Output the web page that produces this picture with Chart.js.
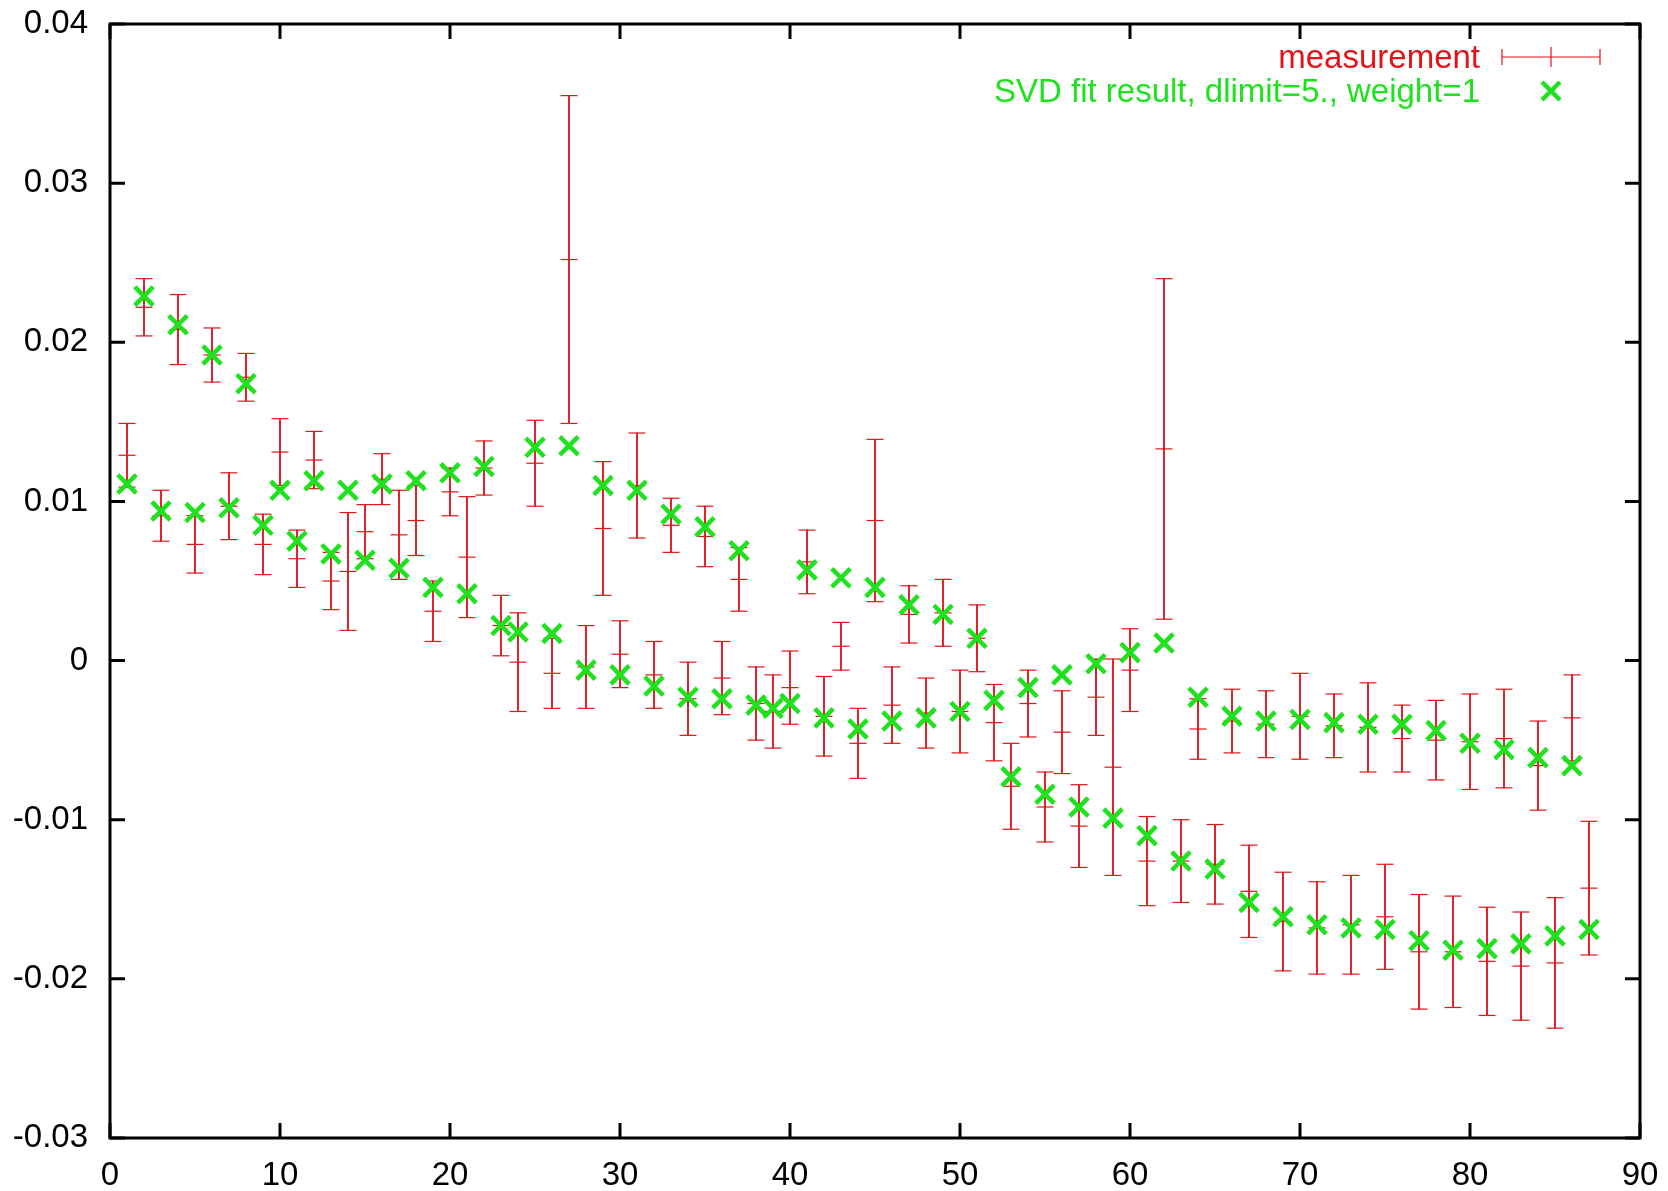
<!DOCTYPE html>
<html>
<head>
<meta charset="utf-8">
<script src="https://cdn.jsdelivr.net/npm/chart.js@4/dist/chart.umd.min.js"></script>
<style>
  html, body { margin: 0; padding: 0; background: #ffffff; }
  #wrap { width: 1668px; height: 1191px; }
</style>
</head>
<body>
<div id="wrap"><canvas id="c" width="1668" height="1191"></canvas></div>
<script>
// ---- data ----
const xValues = [1,2,3,4,5,6,7,8,9,10,11,12,13,14,15,16,17,18,19,20,21,22,23,24,25,26,27,28,29,30,
  31,32,33,34,35,36,37,38,39,40,41,42,43,44,45,46,47,48,49,50,51,52,53,54,55,56,57,58,59,60,
  61,62,63,64,65,66,67,68,69,70,71,72,73,74,75,76,77,78,79,80,81,82,83,84,85,86,87];

const measurement = [0.0129,0.0222,0.0091,0.0208,0.0073,0.0192,0.0097,0.0178,0.0073,0.0131,
  0.0064,0.0126,0.0050,0.0056,0.0081,0.0114,0.0079,0.0088,0.0031,0.0106,
  0.0065,0.0121,0.0022,-0.0001,0.0124,-0.0008,0.0252,-0.0004,0.0083,0.0004,
  0.0110,-0.0009,0.0085,-0.0024,0.0078,-0.0011,0.0051,-0.0027,-0.0032,-0.0017,
  0.0062,-0.0035,0.0009,-0.0052,0.0088,-0.0028,0.0029,-0.0033,0.0030,-0.0032,
  0.0014,-0.0039,-0.0079,-0.0027,-0.0092,-0.0045,-0.0104,-0.0023,-0.0067,-0.0006,
  -0.0126,0.0133,-0.0126,-0.0043,-0.0128,-0.0038,-0.0145,-0.0040,-0.0164,-0.0035,
  -0.0168,-0.0041,-0.0166,-0.0042,-0.0161,-0.0049,-0.0183,-0.0050,-0.0183,-0.0051,
  -0.0189,-0.0049,-0.0192,-0.0066,-0.0190,-0.0036,-0.0143];

const measurementError = [0.0020,0.0018,0.0016,0.0022,0.0018,0.0017,0.0021,0.0015,0.0019,0.0021,
  0.0018,0.0018,0.0018,0.0037,0.0017,0.0016,0.0028,0.0022,0.0019,0.0015,
  0.0038,0.0017,0.0019,0.0031,0.0027,0.0022,0.0103,0.0026,0.0042,0.0021,
  0.0033,0.0021,0.0017,0.0023,0.0019,0.0023,0.0020,0.0023,0.0023,0.0023,
  0.0020,0.0025,0.0015,0.0022,0.0051,0.0024,0.0018,0.0022,0.0021,0.0026,
  0.0021,0.0024,0.0027,0.0021,0.0022,0.0026,0.0026,0.0024,0.0068,0.0026,
  0.0028,0.0107,0.0026,0.0019,0.0025,0.0020,0.0029,0.0021,0.0031,0.0027,
  0.0029,0.0020,0.0031,0.0028,0.0033,0.0021,0.0036,0.0025,0.0035,0.0030,
  0.0034,0.0031,0.0034,0.0028,0.0041,0.0027,0.0042];

const fitResult = [0.0111,0.0229,0.0094,0.0211,0.0093,0.0192,0.0096,0.0174,0.0085,0.0107,
  0.0075,0.0113,0.0067,0.0107,0.0063,0.0111,0.0058,0.0113,0.0046,0.0118,
  0.0042,0.0122,0.0022,0.0018,0.0134,0.0017,0.0135,-0.0006,0.0110,-0.0009,
  0.0107,-0.0016,0.0092,-0.0023,0.0084,-0.0024,0.0069,-0.0028,-0.0030,-0.0027,
  0.0057,-0.0036,0.0052,-0.0043,0.0046,-0.0038,0.0035,-0.0036,0.0029,-0.0032,
  0.0014,-0.0025,-0.0073,-0.0017,-0.0084,-0.0009,-0.0092,-0.0002,-0.0099,0.0005,
  -0.0110,0.0011,-0.0126,-0.0023,-0.0131,-0.0035,-0.0152,-0.0038,-0.0161,-0.0037,
  -0.0166,-0.0039,-0.0168,-0.0040,-0.0169,-0.0040,-0.0176,-0.0044,-0.0182,-0.0052,
  -0.0181,-0.0056,-0.0178,-0.0061,-0.0173,-0.0066,-0.0169];

const xTickValues = [0,10,20,30,40,50,60,70,80,90];
const yTickValues = [-0.03,-0.02,-0.01,0,0.01,0.02,0.03,0.04];
const seriesLabels = ['measurement', 'SVD fit result, dlimit=5., weight=1'];

// ---- styling ----
const RED = '#e2141a';
const GREEN = '#1ee21e';
const FONT = "'Liberation Sans', Arial, Helvetica, sans-serif";
const FONT_SIZE = 33;

const errorBars = xValues.map((x, i) => ({ x: x, y: [measurement[i] - measurementError[i], measurement[i] + measurementError[i]] }));
const errorMarks = [];
xValues.forEach((x, i) => {
  errorMarks.push({ x: x, y: measurement[i] - measurementError[i] });
  errorMarks.push({ x: x, y: measurement[i] + measurementError[i] });
  errorMarks.push({ x: x, y: measurement[i] });
});
const fitPoints = xValues.map((x, i) => ({ x: x, y: fitResult[i] }));

function fmtY(v) {
  const r = Math.round(v * 100) / 100;
  return r === 0 ? '0' : String(r);
}

// frame with inward ticks on all four sides (gnuplot style)
const framePlugin = {
  id: 'frame',
  afterDatasetsDraw(chart) {
    const { ctx, chartArea: a, scales } = chart;
    const xs = scales.x, ys = scales.y;
    const TL = 15;
    ctx.save();
    ctx.strokeStyle = '#000';
    ctx.lineWidth = 3;
    ctx.lineCap = 'butt';
    ctx.beginPath();
    xTickValues.forEach(v => {
      const px = xs.getPixelForValue(v);
      ctx.moveTo(px, a.bottom); ctx.lineTo(px, a.bottom - TL);
      ctx.moveTo(px, a.top); ctx.lineTo(px, a.top + TL);
    });
    yTickValues.forEach(v => {
      const py = ys.getPixelForValue(v);
      ctx.moveTo(a.left, py); ctx.lineTo(a.left + TL, py);
      ctx.moveTo(a.right, py); ctx.lineTo(a.right - TL, py);
    });
    ctx.stroke();
    ctx.lineJoin = 'miter';
    ctx.strokeRect(a.left, a.top, a.right - a.left, a.bottom - a.top);
    ctx.restore();
  }
};

// gnuplot-style key in the top-right corner
const keyPlugin = {
  id: 'gkey',
  afterDraw(chart) {
    const { ctx, chartArea: a } = chart;
    const textRight = a.right - 160;
    const sampleL = a.right - 138, sampleR = a.right - 40, sampleC = (sampleL + sampleR) / 2;
    const b1 = 68, b2 = 102;          // text baselines
    const m1 = 57, m2 = 91;           // sample centre lines
    ctx.save();
    ctx.font = FONT_SIZE + 'px ' + FONT;
    ctx.textAlign = 'right';
    ctx.textBaseline = 'alphabetic';
    ctx.fillStyle = RED;
    ctx.fillText(chart.data.datasets[1].label, textRight, b1);
    ctx.strokeStyle = RED;
    ctx.lineWidth = 1.2;
    ctx.beginPath();
    ctx.moveTo(sampleL, m1); ctx.lineTo(sampleR, m1);
    ctx.moveTo(sampleL, m1 - 8); ctx.lineTo(sampleL, m1 + 8);
    ctx.moveTo(sampleR, m1 - 8); ctx.lineTo(sampleR, m1 + 8);
    ctx.moveTo(sampleC, m1 - 10); ctx.lineTo(sampleC, m1 + 10);
    ctx.stroke();
    ctx.fillStyle = GREEN;
    ctx.fillText(chart.data.datasets[0].label, textRight, b2);
    ctx.strokeStyle = GREEN;
    ctx.lineWidth = 4.5;
    const r = 9;
    ctx.beginPath();
    ctx.moveTo(sampleC - r, m2 - r); ctx.lineTo(sampleC + r, m2 + r);
    ctx.moveTo(sampleC - r, m2 + r); ctx.lineTo(sampleC + r, m2 - r);
    ctx.stroke();
    ctx.restore();
  }
};

const chart = new Chart(document.getElementById('c'), {
  type: 'scatter',
  data: {
    datasets: [
      {
        type: 'scatter',
        label: seriesLabels[1],
        data: fitPoints,
        pointStyle: 'crossRot',
        pointRadius: 13,
        borderWidth: 4.5,
        borderColor: GREEN,
        backgroundColor: GREEN,
        order: 0
      },
      {
        type: 'bar',
        label: seriesLabels[0],
        data: errorBars,
        backgroundColor: RED,
        borderWidth: 0,
        barThickness: 1.2,
        grouped: false,
        order: 2
      },
      {
        type: 'scatter',
        label: 'measurement marks',
        data: errorMarks,
        pointStyle: 'line',
        pointRadius: 8.5,
        borderWidth: 1.2,
        borderColor: RED,
        backgroundColor: RED,
        order: 1
      }
    ]
  },
  options: {
    responsive: false,
    devicePixelRatio: 1,
    animation: false,
    events: [],
    layout: { padding: { left: 0, right: 28, top: 24, bottom: 0 } },
    plugins: {
      legend: { display: false },
      tooltip: { enabled: false },
      title: { display: false }
    },
    scales: {
      x: {
        type: 'linear',
        min: 0, max: 90,
        offset: false,
        grid: { display: false, offset: false, drawTicks: false },
        border: { display: false },
        afterBuildTicks(scale) { scale.ticks = xTickValues.map(v => ({ value: v })); },
        afterFit(scale) {
          scale.height = 53;
          scale.paddingLeft = 0; scale.paddingRight = 0;
          scale.paddingTop = 0; scale.paddingBottom = 0;
        },
        ticks: {
          color: '#000',
          font: { family: FONT, size: FONT_SIZE },
          padding: 18,
          maxRotation: 0,
          autoSkip: false
        }
      },
      y: {
        type: 'linear',
        min: -0.03, max: 0.04,
        grid: { display: false, drawTicks: false },
        border: { display: false },
        afterBuildTicks(scale) { scale.ticks = yTickValues.map(v => ({ value: v })); },
        afterFit(scale) {
          scale.width = 110;
          scale.paddingTop = 0; scale.paddingBottom = 0;
          scale.paddingLeft = 0; scale.paddingRight = 0;
        },
        ticks: {
          color: '#000',
          font: { family: FONT, size: FONT_SIZE },
          padding: 22,
          autoSkip: false,
          callback: (v) => fmtY(v)
        }
      }
    }
  },
  plugins: [framePlugin, keyPlugin]
});
</script>
</body>
</html>
